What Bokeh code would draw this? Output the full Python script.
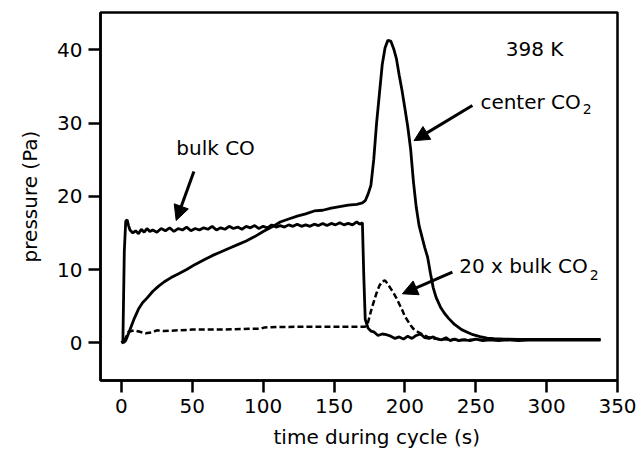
from bokeh.plotting import figure
from bokeh.models import Range1d, FixedTicker, Label, Arrow, NormalHead, Title
from bokeh.embed import file_html
from bokeh.resources import INLINE

# ---- data (time s, pressure Pa) ----
bulk_co = [(0, 0.0), (1, 0.2), (2, 12.5), (3, 16.6), (4, 16.8), (5, 16.0), (6, 15.4), (8, 15.0), (10, 15.3),
           (12, 14.9), (14, 15.5), (16, 15.1), (18, 15.6), (20, 15.2), (22, 15.4), (25, 15.1), (28, 15.6),
           (31, 15.3), (34, 15.7), (37, 15.2), (40, 15.6), (43, 15.4), (46, 15.8), (49, 15.3), (52, 15.6),
           (55, 15.4), (58, 15.7), (61, 15.5), (64, 15.9), (67, 15.4), (70, 15.7), (73, 15.5), (76, 15.9),
           (79, 15.6), (82, 15.8), (85, 15.5), (88, 15.9), (91, 15.7), (94, 16.0), (97, 15.6), (100, 15.9),
           (103, 15.7), (106, 16.1), (109, 15.8), (112, 16.0), (115, 15.8), (118, 16.1), (121, 15.9),
           (124, 16.2), (127, 15.9), (130, 16.1), (133, 15.9), (136, 16.2), (139, 16.0), (142, 16.3),
           (145, 16.0), (148, 16.3), (151, 16.1), (154, 16.4), (157, 16.1), (160, 16.3), (163, 16.1),
           (166, 16.5), (168, 16.2), (170, 16.4), (171, 9.0), (172, 3.2), (174, 2.0), (176, 1.6), (178, 1.5),
           (181, 1.0), (184, 1.2), (187, 1.1), (190, 0.9), (193, 0.6), (196, 0.8), (199, 0.5), (202, 0.9),
           (205, 0.6), (208, 1.0), (211, 1.2), (214, 0.7), (217, 0.6), (220, 0.8), (223, 0.5), (226, 0.4),
           (229, 0.7), (232, 0.3), (235, 0.5), (238, 0.3), (242, 0.4), (246, 0.3), (250, 0.5), (255, 0.3),
           (260, 0.4), (266, 0.3), (272, 0.4), (280, 0.3), (290, 0.4), (300, 0.35), (310, 0.4), (320, 0.35),
           (330, 0.4), (338, 0.35)]

center_co2 = [(0, 0.0), (2, 0.1), (3, 0.3), (4, 0.8), (5, 1.3), (7, 2.3), (9, 3.3), (12, 4.6), (15, 5.5),
              (18, 6.1), (22, 7.0), (26, 7.7), (30, 8.3), (35, 8.9), (40, 9.4), (46, 10.0), (52, 10.7),
              (58, 11.3), (64, 11.9), (70, 12.4), (76, 12.9), (82, 13.4), (88, 13.9), (94, 14.5), (100, 15.2),
              (106, 15.8), (112, 16.5), (118, 16.9), (124, 17.3), (130, 17.6), (136, 18.0), (142, 18.1),
              (148, 18.4), (154, 18.6), (160, 18.8), (166, 18.9), (170, 19.1), (172, 19.4), (174, 20.3),
              (176, 21.5), (178, 25.0), (180, 30.0), (182, 34.0), (184, 38.0), (186, 40.3), (188, 41.3),
              (190, 41.2), (192, 40.2), (194, 38.8), (196, 36.5), (198, 34.4), (200, 32.0), (202, 29.5),
              (204, 26.5), (206, 22.0), (208, 18.5), (210, 16.0), (212, 14.5), (214, 13.0), (216, 11.7),
              (218, 9.5), (220, 7.5), (222, 6.2), (225, 4.9), (228, 4.0), (231, 3.3), (235, 2.5), (240, 1.8),
              (244, 1.45), (248, 1.1), (253, 0.85), (258, 0.65), (263, 0.55), (270, 0.5), (280, 0.45),
              (300, 0.45), (320, 0.45), (338, 0.45)]

bulk_co2_x20 = [(2, 0.3), (5, 1.5), (9, 1.7), (13, 1.5), (17, 1.3), (21, 1.4), (25, 1.7), (30, 1.6), (40, 1.7),
                (50, 1.8), (60, 1.8), (70, 1.8), (80, 1.85), (90, 1.9), (98, 1.9), (101, 2.1), (110, 2.15),
                (130, 2.2), (150, 2.2), (172, 2.2), (174, 2.8), (176, 4.3), (178, 5.6), (180, 6.8), (182, 7.8),
                (184, 8.4), (186, 8.5), (188, 8.0), (190, 7.4), (192, 6.8), (194, 6.1), (196, 5.3), (198, 4.5),
                (200, 3.6), (202, 3.0), (204, 2.4), (206, 1.9), (209, 1.5), (212, 1.2), (216, 0.8), (220, 0.6),
                (225, 0.5), (230, 0.45), (240, 0.4), (260, 0.4), (300, 0.4), (338, 0.4)]

x_ticks = [0, 50, 100, 150, 200, 250, 300, 350]
y_ticks = [0, 10, 20, 30, 40]

FONT = "DejaVu Sans"

p = figure(width=639, height=457, output_backend="svg", toolbar_location=None,
           x_range=Range1d(-14.8, 350), y_range=Range1d(-5.15, 45.1),
           min_border_left=100, min_border_right=22, min_border_top=12, min_border_bottom=77)
p.xgrid.visible = False
p.ygrid.visible = False
p.outline_line_color = "black"
p.outline_line_width = 2.5
p.outline_line_alpha = 1.0
p.background_fill_color = "white"
p.border_fill_color = "white"

for ax in (p.xaxis[0], p.yaxis[0]):
    ax.major_tick_out = 12
    ax.major_tick_in = 0
    ax.minor_tick_out = 0
    ax.minor_tick_in = 0
    ax.axis_line_width = 2.5
    ax.axis_line_color = "black"
    ax.major_tick_line_width = 2.5
    ax.major_tick_line_color = "black"
    ax.major_label_text_font = FONT
    ax.major_label_text_font_size = "20px"
    ax.major_label_text_color = "black"
    ax.major_label_standoff = 6
    ax.axis_label_text_font = FONT
    ax.axis_label_text_font_size = "20px"
    ax.axis_label_text_font_style = "normal"
    ax.axis_label_text_color = "black"

p.xaxis.ticker = FixedTicker(ticks=x_ticks)
p.yaxis.ticker = FixedTicker(ticks=y_ticks)
p.yaxis.axis_label = "pressure (Pa)"
p.yaxis.axis_label_standoff = 12

xtitle = Title(text="time during cycle (s)", align="left", offset=173, standoff=14,
               text_font=FONT, text_font_size="20px", text_font_style="normal", text_color="black")
p.add_layout(xtitle, "below")

def xs(d):
    return [a for a, b in d]

def ys(d):
    return [b for a, b in d]

p.line(xs(bulk_co2_x20), ys(bulk_co2_x20), line_color="black", line_width=2.5, line_dash="6 3")
p.line(xs(bulk_co), ys(bulk_co), line_color="black", line_width=2.8)
p.line(xs(center_co2), ys(center_co2), line_color="black", line_width=2.8)

def lab(x, y, text, size="20px", align="left"):
    p.add_layout(Label(x=x, y=y, text=text, text_font=FONT, text_font_size=size,
                       text_align=align, text_baseline="middle", text_color="black"))

lab(271.1, 40.1, "398 K")
lab(324.1, 32.85, "center CO", align="right")
lab(325.5, 31.9, "2", size="14px")
lab(66.4, 26.6, "bulk CO", align="center")
lab(329.0, 10.44, "20 x bulk CO", align="right")
lab(330.4, 9.2, "2", size="14px")

def arrow(x0, y0, x1, y1):
    p.add_layout(Arrow(end=NormalHead(size=15, fill_color="black", line_color="black"),
                       x_start=x0, y_start=y0, x_end=x1, y_end=y1,
                       line_color="black", line_width=3))

arrow(247.6, 32.4, 206.4, 27.6)
arrow(51.1, 23.4, 38.6, 16.7)
arrow(233.5, 9.64, 198.2, 6.69)

open("out.html", "w").write(file_html(p, INLINE))
